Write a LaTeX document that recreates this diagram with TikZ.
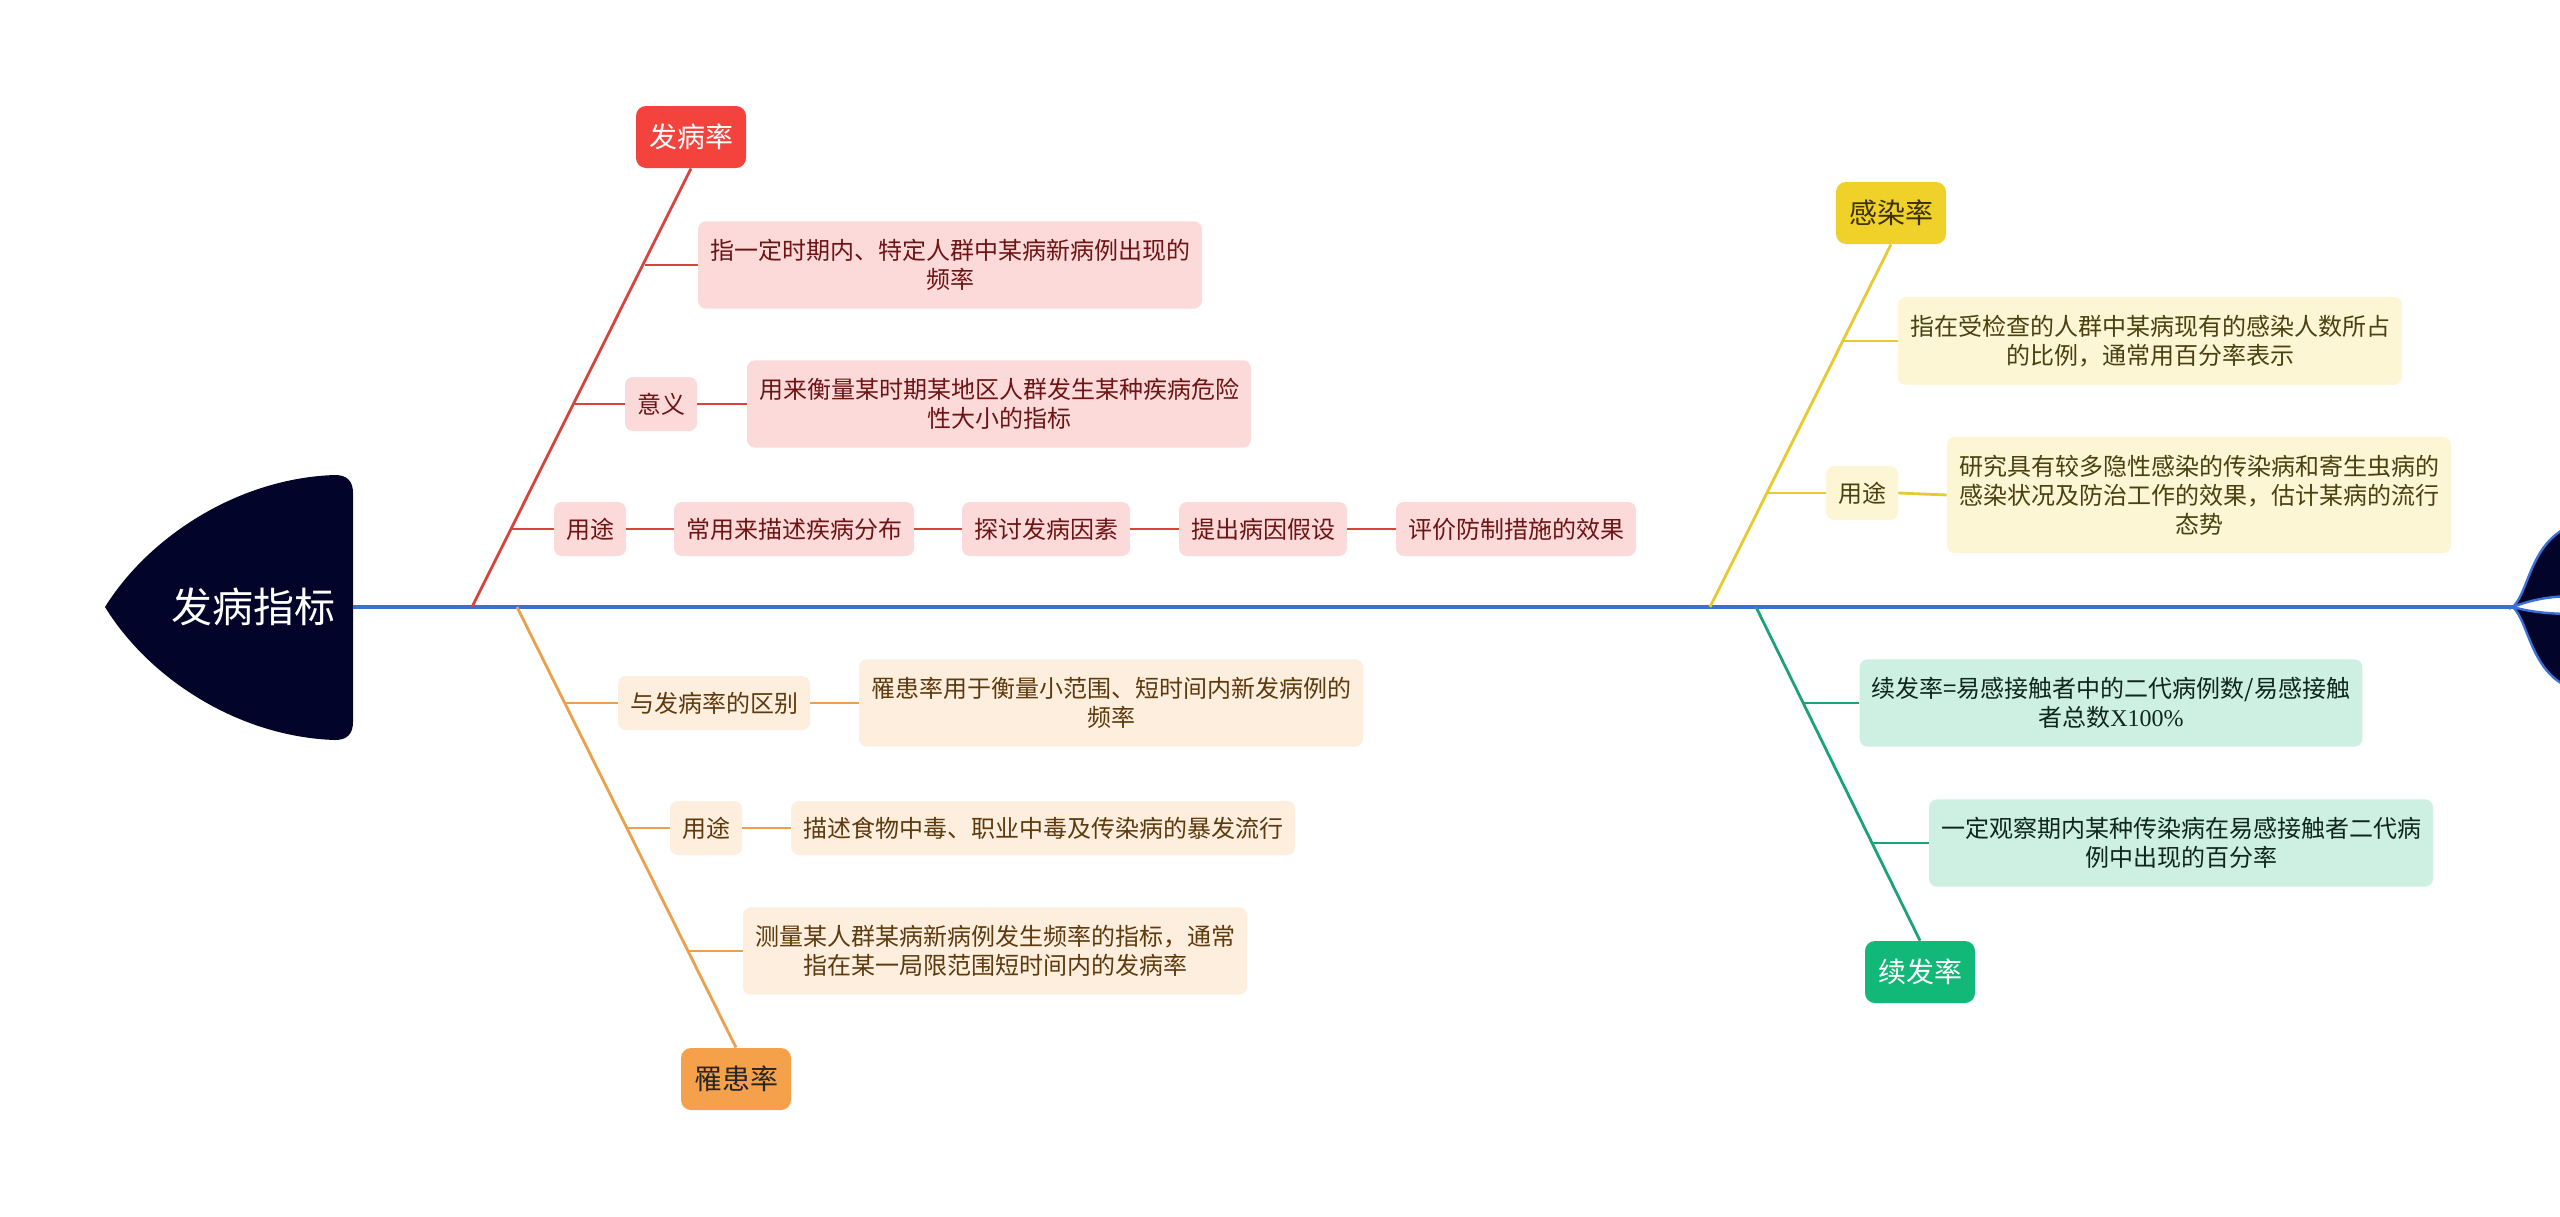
\documentclass[tikz,border=0pt]{standalone}
\usepackage{fontspec}
\setmainfont{Noto Sans CJK SC}
\newfontfamily\serifx{Liberation Serif}
\definecolor{spine}{HTML}{3A6FD6}
\definecolor{navy}{HTML}{02042A}
\definecolor{redM}{HTML}{F4433C}
\definecolor{redL}{HTML}{D8433C}
\definecolor{redF}{HTML}{FCDADA}
\definecolor{redT}{HTML}{6E1414}
\definecolor{orM}{HTML}{F5A04A}
\definecolor{orL}{HTML}{EBA04E}
\definecolor{orF}{HTML}{FDEEDD}
\definecolor{orT}{HTML}{5E3A0E}
\definecolor{yeM}{HTML}{F0D12A}
\definecolor{yeL}{HTML}{E6CA2E}
\definecolor{yeF}{HTML}{FDF6D4}
\definecolor{yeT}{HTML}{4A4010}
\definecolor{yeTop}{HTML}{3A3000}
\definecolor{grM}{HTML}{12B877}
\definecolor{grL}{HTML}{1AA37A}
\definecolor{grF}{HTML}{CDF0E3}
\definecolor{grT}{HTML}{10261C}
\tikzset{
  sub/.style={rounded corners=4pt, inner xsep=6pt, inner ysep=6.5pt, minimum height=27pt,
    align=center, font=\fontsize{12}{14.5}\selectfont},
  multi/.style={inner ysep=9pt},
  rsub/.style={sub, fill=redF, text=redT},
  osub/.style={sub, fill=orF, text=orT},
  ysub/.style={sub, fill=yeF, text=yeT},
  gsub/.style={sub, fill=grF, text=grT},
  topic/.style={rounded corners=5pt, inner xsep=6.5pt, minimum height=31pt, minimum width=55pt,
    font=\fontsize{14}{16}\selectfont},
  rline/.style={draw=redL, line width=1.4pt},
  oline/.style={draw=orL, line width=1.4pt},
  yline/.style={draw=yeL, line width=1.4pt},
  gline/.style={draw=grL, line width=1.4pt},
}
\begin{document}
\begin{tikzpicture}[x=0.5pt,y=-0.5pt]
\clip (0,0) rectangle (2560,1216);
\fill[white] (0,0) rectangle (2560,1216);
% head
\fill[navy] (105,607) .. controls (150,535) and (240,478) .. (335,475)
  .. controls (347,475) and (353,481) .. (353,493) -- (353,722)
  .. controls (353,734) and (347,740) .. (335,740)
  .. controls (240,737) and (150,680) .. (105,607) -- cycle;
\node[text=white, font=\fontsize{20.5}{22}\selectfont] (head) at (253,607) {发病指标};
\coordinate (headE) at (353,607);
% tail
\coordinate (tail) at (2513,607);
\filldraw[fill=navy, draw=spine, line width=1.2pt] (tail) .. controls (2530,590) and (2530,540) .. (2575,524) -- (2575,596) .. controls (2550,596) and (2530,600) .. cycle;
\filldraw[fill=navy, draw=spine, line width=1.2pt] (tail) .. controls (2530,624) and (2530,674) .. (2575,690) -- (2575,614) .. controls (2550,614) and (2530,612) .. cycle;
% spine
\draw[spine, line width=2pt] (headE) -- (tail);
\coordinate (s1) at (472,607);
\coordinate (s2) at (517,607);
\coordinate (s3) at (1710,607);
\coordinate (s4) at (1756,607);

% ===== red branch
\node[topic, fill=redM, text=white] (top1) at (691,137) {发病率};
\node[rsub, multi] (r1) at (950,265) {指一定时期内、特定人群中某病新病例出现的\\频率};
\node[rsub] (r2) at (661,404) {意义};
\node[rsub, multi] (r2a) at (999,404) {用来衡量某时期某地区人群发生某种疾病危险\\性大小的指标};
\node[rsub] (r3) at (590,529) {用途};
\node[rsub] (r3a) at (794,529) {常用来描述疾病分布};
\node[rsub] (r3b) at (1046,529) {探讨发病因素};
\node[rsub] (r3c) at (1263,529) {提出病因假设};
\node[rsub] (r3d) at (1516,529) {评价防制措施的效果};
\draw[rline] (s1) -- (top1.south);
\coordinate (c1) at (645,265);
\coordinate (c2) at (575,404);
\coordinate (c3) at (511,529);
\draw[rline] (c1) -- (r1.west);
\draw[rline] (c2) -- (r2.west);
\draw[rline] (r2.east) -- (r2a.west);
\draw[rline] (c3) -- (r3.west);
\draw[rline] (r3.east) -- (r3a.west);
\draw[rline] (r3a.east) -- (r3b.west);
\draw[rline] (r3b.east) -- (r3c.west);
\draw[rline] (r3c.east) -- (r3d.west);

% ===== orange branch
\node[topic, fill=orM, text=black!85] (top2) at (736,1079) {罹患率};
\node[osub] (o1) at (714,703) {与发病率的区别};
\node[osub, multi] (o1a) at (1111,703) {罹患率用于衡量小范围、短时间内新发病例的\\频率};
\node[osub] (o2) at (706,828) {用途};
\node[osub] (o2a) at (1043,828) {描述食物中毒、职业中毒及传染病的暴发流行};
\node[osub, multi] (o3) at (995,951) {测量某人群某病新病例发生频率的指标，通常\\指在某一局限范围短时间内的发病率};
\draw[oline] (s2) -- (top2.north);
\coordinate (c4) at (565,703);
\coordinate (c5) at (627,828);
\coordinate (c6) at (688,951);
\draw[oline] (c4) -- (o1.west);
\draw[oline] (o1.east) -- (o1a.west);
\draw[oline] (c5) -- (o2.west);
\draw[oline] (o2.east) -- (o2a.west);
\draw[oline] (c6) -- (o3.west);

% ===== yellow branch
\node[topic, fill=yeM, text=yeTop] (top3) at (1891,213) {感染率};
\node[ysub, multi] (y1) at (2150,341) {指在受检查的人群中某病现有的感染人数所占\\的比例，通常用百分率表示};
\node[ysub] (y2) at (1862,493) {用途};
\node[ysub, multi] (y2a) at (2199,495) {研究具有较多隐性感染的传染病和寄生虫病的\\感染状况及防治工作的效果，估计某病的流行\\态势};
\draw[yline] (s3) -- (top3.south);
\coordinate (c7) at (1843,341);
\coordinate (c8) at (1767,493);
\draw[yline] (c7) -- (y1.west);
\draw[yline] (c8) -- (y2.west);
\draw[yline] (y2.east) -- (y2a.west);

% ===== green branch
\node[topic, fill=grM, text=white] (top4) at (1920,972) {续发率};
\node[gsub, multi] (g1) at (2111,703) {续发率=易感接触者中的二代病例数/易感接触\\者总数{\serifx X100\%}};
\node[gsub, multi] (g2) at (2181,843) {一定观察期内某种传染病在易感接触者二代病\\例中出现的百分率};
\draw[gline] (s4) -- (top4.north);
\coordinate (c9) at (1803,703);
\coordinate (c10) at (1872,843);
\draw[gline] (c9) -- (g1.west);
\draw[gline] (c10) -- (g2.west);
\end{tikzpicture}
\end{document}
